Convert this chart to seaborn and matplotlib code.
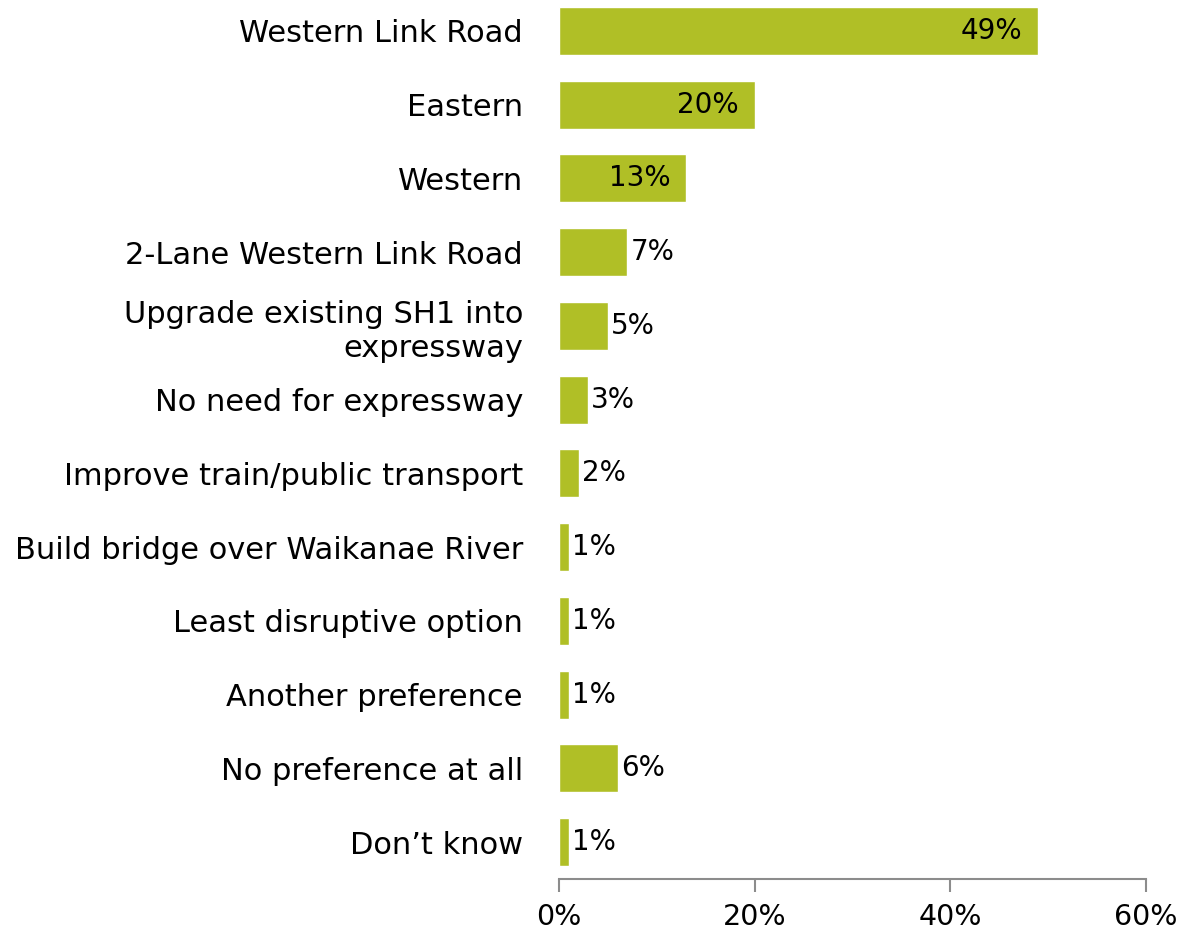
"""
Preferred route options - horizontal bar chart
"""
import matplotlib
matplotlib.use("Agg")
import matplotlib.pyplot as plt
import pandas as pd
import seaborn as sns

categories = [
    "Western Link Road",
    "Eastern",
    "Western",
    "2-Lane Western Link Road",
    "Upgrade existing SH1 into\nexpressway",
    "No need for expressway",
    "Improve train/public transport",
    "Build bridge over Waikanae River",
    "Least disruptive option",
    "Another preference",
    "No preference at all",
    "Don\u2019t know",
]
values = [49, 20, 13, 7, 5, 3, 2, 1, 1, 1, 6, 1]
x_ticks = [0, 20, 40, 60]

BAR_COLOR = "#B0BF26"

sns.set_theme(style="white")
plt.rcParams["font.family"] = ["DejaVu Sans"]

df = pd.DataFrame({"option": categories, "pct": values})

fig = plt.figure(figsize=(11.77, 9.32), dpi=100)
ax = fig.add_axes([559 / 1177, 53 / 932, (1146 - 559) / 1177, 1 - 53 / 932])

sns.barplot(data=df, y="option", x="pct", orient="h", color=BAR_COLOR,
            saturation=1, width=0.65, ax=ax)

ax.set_xlim(0, 60)
ax.set_ylim(11.5, -0.42)
ax.set_xticks(x_ticks)
ax.set_xticklabels([f"{t}%" for t in x_ticks], fontsize=20.5, color="black")
ax.tick_params(axis="y", length=0, pad=26, labelsize=22, labelcolor="black")
ax.tick_params(axis="x", length=9, width=1.5, color="#8c8c8c",
               direction="out", bottom=True, pad=8)
ax.set_xlabel("")
ax.set_ylabel("")

for s in ["top", "right", "left"]:
    ax.spines[s].set_visible(False)
ax.spines["bottom"].set_color("#8c8c8c")
ax.spines["bottom"].set_linewidth(1.5)

# value labels: inside for the long bars, outside for the short ones
for i, v in enumerate(values):
    if v >= 10:
        ax.text(v - 1.6, i, f"{v}%", ha="right", va="center",
                fontsize=20, color="black")
    else:
        ax.text(v + 0.3, i, f"{v}%", ha="left", va="center",
                fontsize=20, color="black")

fig.savefig("out.png", dpi=100)
